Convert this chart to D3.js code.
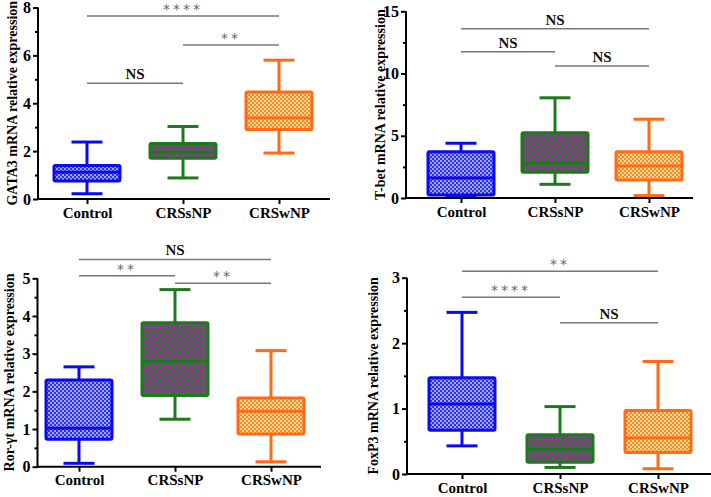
<!DOCTYPE html>
<html><head><meta charset="utf-8">
<script src="https://cdn.jsdelivr.net/npm/d3@7"></script>
<style>
body{margin:0;background:#fff;}
svg{display:block;}
</style></head>
<body>
<svg id="chart" width="711" height="497"></svg>
<script>
// ---------- data ----------
const categories = ["Control", "CRSsNP", "CRSwNP"];
// [min, q1, median, q3, max]
const gata3Stats = [[0.22, 0.75, 1.12, 1.4, 2.38], [0.88, 1.7, 1.95, 2.32, 3.03], [1.92, 2.9, 3.38, 4.47, 5.8]];
const tbetStats  = [[0.1, 0.24, 1.6, 3.72, 4.4], [1.1, 2.06, 2.8, 5.25, 8.05], [0.19, 1.45, 2.57, 3.72, 6.33]];
const rorStats   = [[0.09, 0.73, 1.02, 2.3, 2.65], [1.26, 1.89, 2.8, 3.82, 4.7], [0.13, 0.87, 1.47, 1.82, 3.08]];
const foxp3Stats = [[0.43, 0.67, 1.07, 1.47, 2.47], [0.1, 0.18, 0.38, 0.6, 1.03], [0.08, 0.33, 0.55, 0.97, 1.72]];

const gata3Ticks = [0, 2, 4, 6, 8];
const tbetTicks  = [0, 5, 10, 15];
const rorTicks   = [0, 1, 2, 3, 4, 5];
const foxp3Ticks = [0, 1, 2, 3];

// significance comparisons: [fromIndex, toIndex, label, barValue]
const gata3Sig = [[0, 2, "****", 7.65], [1, 2, "**", 6.43], [0, 1, "NS", 4.84]];
const tbetSig  = [[0, 2, "NS", 13.6], [0, 1, "NS", 11.75], [1, 2, "NS", 10.6]];
const rorSig   = [[0, 2, "NS", 5.5], [0, 1, "**", 5.07], [1, 2, "**", 4.87]];
const foxp3Sig = [[0, 2, "**", 3.1], [0, 1, "****", 2.7], [1, 2, "NS", 2.31]];

const titles = ["GATA3 mRNA relative expression", "T-bet mRNA relative expression",
                "Ror-\u03b3t mRNA relative expression", "FoxP3 mRNA relative expression"];

// ---------- styles ----------
const SERIF = "'Liberation Serif','Times New Roman',serif";
const strokeCols = ["#0a0af0", "#1c7a1c", "#ff6a12"];
const patIds = ["patBlue", "patGreen", "patOrange"];

const svg = d3.select("#chart");
const defs = svg.append("defs");
function checker(id, size, base, alt) {
  const p = defs.append("pattern").attr("id", id).attr("patternUnits", "userSpaceOnUse")
    .attr("width", size * 2).attr("height", size * 2);
  p.append("rect").attr("width", size * 2).attr("height", size * 2).attr("fill", base);
  p.append("rect").attr("width", size).attr("height", size).attr("fill", alt);
  p.append("rect").attr("x", size).attr("y", size).attr("width", size).attr("height", size).attr("fill", alt);
}
checker("patBlue", 2, "#2f2ff5", "#9fa6ff");
checker("patGreen", 3.5, "#2a7a28", "#a02aa8");
checker("patOrange", 2, "#ff8a1e", "#ffd9a2");

// ---------- panels ----------
const panels = [
  {stats: gata3Stats, ticks: gata3Ticks, max: 8, minor: 1, sig: gata3Sig, title: titles[0],
   axisX: 38, axisEnd: 330, y0: 199, y1: 7.5, cx: [87, 279], titleX: 12},
  {stats: tbetStats, ticks: tbetTicks, max: 15, minor: 2.5, sig: tbetSig, title: titles[1],
   axisX: 406, axisEnd: 693, y0: 198, y1: 11.3, cx: [461, 649], titleX: 380},
  {stats: rorStats, ticks: rorTicks, max: 5, minor: 0.5, sig: rorSig, title: titles[2],
   axisX: 37.5, axisEnd: 321, y0: 466.7, y1: 278.3, cx: [79, 271], titleX: 9},
  {stats: foxp3Stats, ticks: foxp3Ticks, max: 3, minor: 0.5, sig: foxp3Sig, title: titles[3],
   axisX: 407, axisEnd: 711, y0: 474, y1: 277.7, cx: [462, 658], titleX: 373}
];

const boxW = 66, capW = 31;

panels.forEach(p => {
  const g = svg.append("g");
  const y = d3.scaleLinear().domain([0, p.max]).range([p.y0, p.y1]);
  const x = d3.scalePoint().domain(categories).range(p.cx);

  // boxes
  p.stats.forEach((s, i) => {
    const cx = x(categories[i]);
    const col = strokeCols[i];
    const bg = g.append("g").attr("stroke", col).attr("stroke-width", 3).attr("fill", "none");
    bg.append("line").attr("x1", cx).attr("x2", cx).attr("y1", y(s[0])).attr("y2", y(s[1]));
    bg.append("line").attr("x1", cx).attr("x2", cx).attr("y1", y(s[3])).attr("y2", y(s[4]));
    bg.append("line").attr("x1", cx - capW / 2).attr("x2", cx + capW / 2).attr("y1", y(s[0])).attr("y2", y(s[0]));
    bg.append("line").attr("x1", cx - capW / 2).attr("x2", cx + capW / 2).attr("y1", y(s[4])).attr("y2", y(s[4]));
    bg.append("rect").attr("x", cx - boxW / 2).attr("y", y(s[3])).attr("width", boxW)
      .attr("height", y(s[1]) - y(s[3])).attr("fill", `url(#${patIds[i]})`).attr("rx", 1.5);
    bg.append("line").attr("x1", cx - boxW / 2).attr("x2", cx + boxW / 2).attr("y1", y(s[2])).attr("y2", y(s[2]));
  });

  // y axis
  const yAxis = d3.axisLeft(y).tickValues(p.ticks).tickSize(5).tickPadding(2).tickFormat(d3.format("d"));
  const ya = g.append("g").attr("transform", `translate(${p.axisX},0)`).call(yAxis);
  ya.attr("font-family", SERIF);
  ya.select(".domain").attr("stroke-width", 2).attr("d", `M0,${p.y0 + 1}V${p.y1}`);
  ya.selectAll(".tick line").attr("stroke-width", 2);
  ya.selectAll(".tick text").attr("font-size", 16).attr("font-weight", "bold").attr("fill", "#000");
  const minors = d3.range(p.minor, p.max, p.minor).filter(v => !p.ticks.includes(v));
  const ma = d3.axisLeft(y).tickValues(minors).tickSize(3).tickFormat("");
  const mg = g.append("g").attr("transform", `translate(${p.axisX},0)`).call(ma);
  mg.select(".domain").remove();
  mg.selectAll(".tick line").attr("stroke-width", 2);

  // x axis
  const xAxis = d3.axisBottom(x).tickSize(5).tickPadding(3);
  const xa = g.append("g").attr("transform", `translate(0,${p.y0})`).call(xAxis);
  xa.attr("font-family", SERIF);
  xa.select(".domain").attr("stroke-width", 2).attr("d", `M${p.axisX - 1},0H${p.axisEnd}`);
  xa.selectAll(".tick line").attr("stroke-width", 2);
  xa.selectAll(".tick text").attr("font-size", 15).attr("font-weight", "bold").attr("fill", "#000");

  // y title
  g.append("text").attr("transform", `translate(${p.titleX},${(p.y0 + p.y1) / 2}) rotate(-90)`)
    .attr("text-anchor", "middle").attr("dominant-baseline", "central")
    .attr("font-family", SERIF)
    .attr("font-size", 14).attr("font-weight", "bold").text(p.title);

  // significance
  p.sig.forEach(([a, b, lab, v]) => {
    const x1 = x(categories[a]), x2 = x(categories[b]);
    const yy = y(v);
    g.append("line").attr("x1", x1).attr("x2", x2).attr("y1", yy).attr("y2", yy)
      .attr("stroke", "#777").attr("stroke-width", 1.5);
    const isNS = lab === "NS";
    g.append("text").attr("x", (x1 + x2) / 2).attr("y", isNS ? yy - 4 : yy - 2)
      .attr("text-anchor", "middle")
      .attr("font-size", isNS ? 15 : 14)
      .attr("font-weight", isNS ? "bold" : "normal")
      .attr("fill", isNS ? "#111" : "#666")
      .attr("letter-spacing", isNS ? 0 : 3)
      .attr("font-family", isNS ? SERIF : "'DejaVu Sans',sans-serif")
      .text(lab);
  });
});
</script>
</body></html>
